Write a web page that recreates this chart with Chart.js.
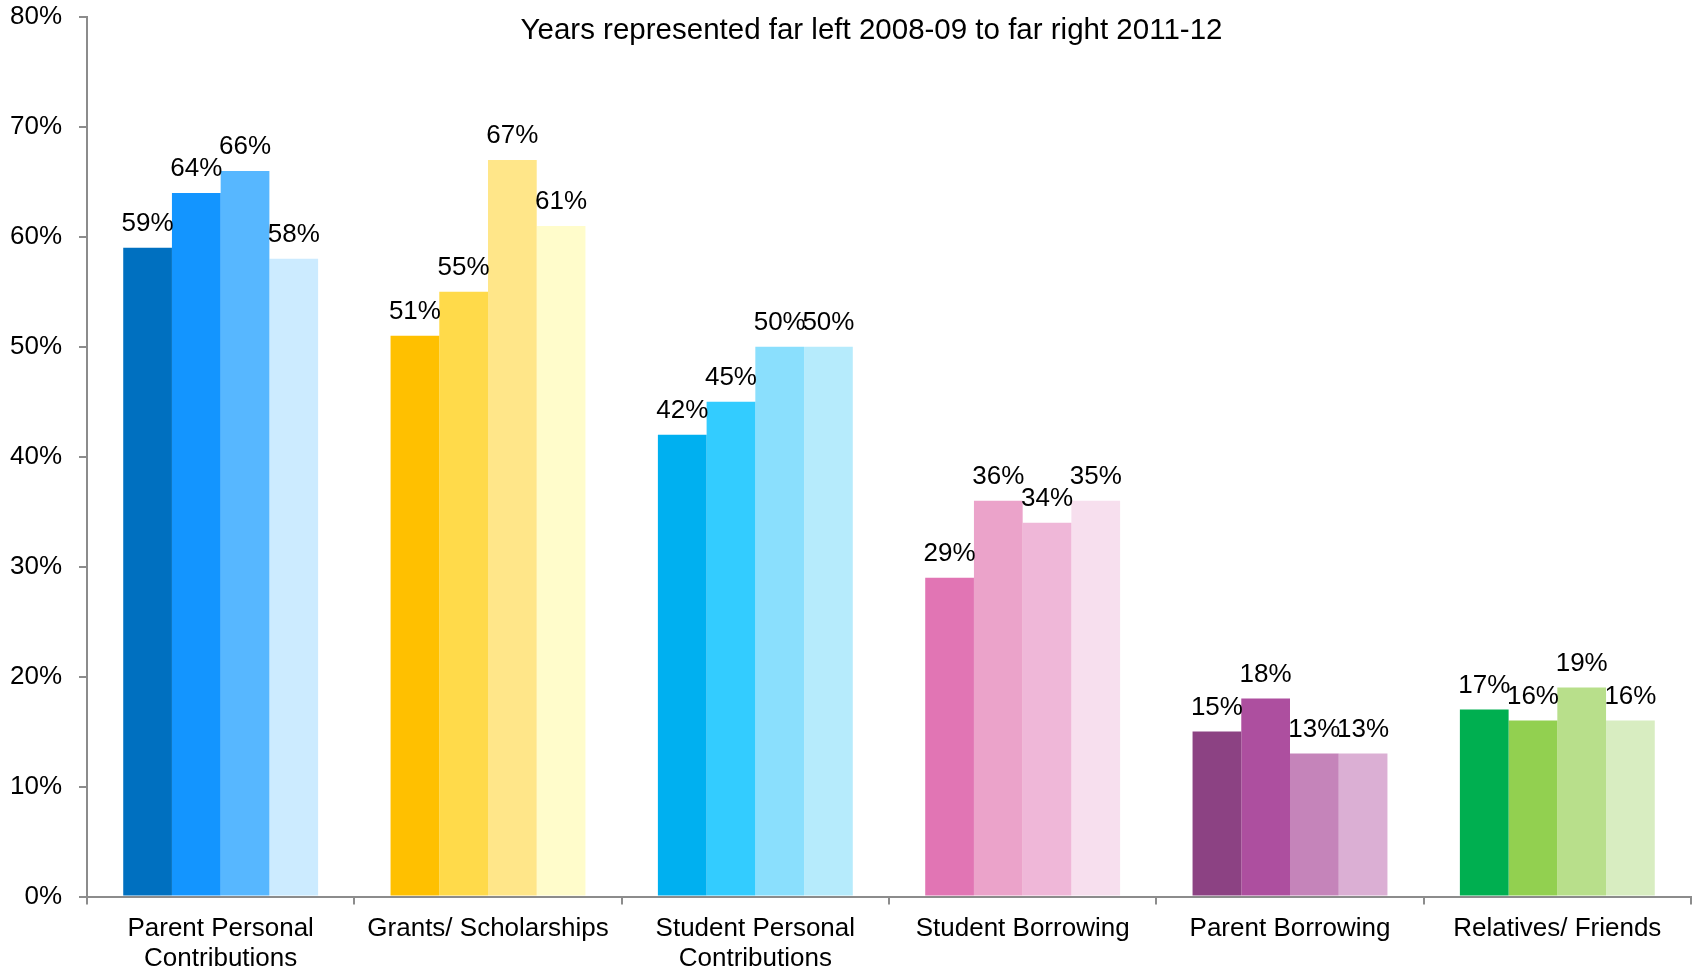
<!DOCTYPE html>
<html>
<head>
<meta charset="utf-8">
<script src="https://cdn.jsdelivr.net/npm/chart.js@4"></script>
<style>
  body { margin: 0; background: #fff; }
  #wrap { width: 1696px; height: 971px; }
</style>
</head>
<body>
<div id="wrap"><canvas id="barChart"></canvas></div>
<script>
// categories and yearly values (percent)
const categories = [
  ['Parent Personal', 'Contributions'],
  'Grants/ Scholarships',
  ['Student Personal', 'Contributions'],
  'Student Borrowing',
  'Parent Borrowing',
  'Relatives/ Friends'
];
const years = ['2008-09', '2009-10', '2010-11', '2011-12'];

const values0809 = [59, 51, 42, 29, 15, 17];
const values0910 = [64, 55, 45, 36, 18, 16];
const values1011 = [66, 67, 50, 34, 13, 19];
const values1112 = [58, 61, 50, 36, 13, 16];

// printed data labels (the last Student Borrowing label reads 35%)
const labels0809 = [59, 51, 42, 29, 15, 17];
const labels0910 = [64, 55, 45, 36, 18, 16];
const labels1011 = [66, 67, 50, 34, 13, 19];
const labels1112 = [58, 61, 50, 35, 13, 16];

const yTickStep = 10;
const yMax = 80;
const titleText = 'Years represented far left 2008-09 to far right 2011-12';

const colors0809 = ['#0070C0', '#FFC000', '#00B0F0', '#E175B4', '#8C4283', '#00AF50'];
const colors0910 = ['#1395FF', '#FFDA4A', '#33CCFF', '#EBA3CA', '#AD4F9F', '#92D050'];
const colors1011 = ['#57B7FF', '#FFE689', '#8ADFFD', '#EFB7D8', '#C584BA', '#B8DF8B'];
const colors1112 = ['#CCEBFF', '#FFFCCB', '#B6EBFC', '#F7DFEE', '#DBAFD4', '#D8EDC1'];

const FONT = "'Liberation Sans', Arial, sans-serif";
const axisGray = '#8c8c8c';

const seriesValues = [values0809, values0910, values1011, values1112];
const seriesLabels = [labels0809, labels0910, labels1011, labels1112];
const seriesColors = [colors0809, colors0910, colors1011, colors1112];

const datasets = years.map((y, i) => ({
  label: y,
  data: seriesValues[i],
  backgroundColor: seriesColors[i],
  borderWidth: 0,
  categoryPercentage: 0.729,
  barPercentage: 1.0,
  printed: seriesLabels[i]
}));

const labelPlugin = {
  id: 'barLabels',
  afterDatasetsDraw(chart) {
    const ctx = chart.ctx;
    ctx.save();
    ctx.font = '26px ' + FONT;
    ctx.fillStyle = '#000';
    ctx.textAlign = 'center';
    ctx.textBaseline = 'alphabetic';
    chart.data.datasets.forEach((ds, i) => {
      chart.getDatasetMeta(i).data.forEach((bar, j) => {
        ctx.fillText(ds.printed[j] + '%', bar.x, bar.y - 17);
      });
    });
    ctx.restore();
  },
  afterDraw(chart) {
    const ctx = chart.ctx;
    ctx.save();
    ctx.font = '29.5px ' + FONT;
    ctx.fillStyle = '#000';
    ctx.textAlign = 'center';
    ctx.textBaseline = 'alphabetic';
    ctx.fillText(titleText, 871.5, 38.5);
    ctx.restore();
  }
};

const ctx = document.getElementById('barChart').getContext('2d');

new Chart(ctx, {
  type: 'bar',
  data: {
    labels: categories,
    datasets: datasets
  },
  options: {
    responsive: true,
    maintainAspectRatio: false,
    animation: false,
    layout: { padding: { top: 17, right: 5, bottom: 0, left: 0 } },
    plugins: {
      legend: { display: false },
      title: { display: false },
      tooltip: { enabled: false }
    },
    scales: {
      x: {
        grid: {
          offset: true,
          drawOnChartArea: false,
          tickLength: 8,
          color: axisGray,
          lineWidth: 2
        },
        border: { color: axisGray, width: 2 },
        ticks: {
          color: '#000',
          font: { family: FONT, size: 26, lineHeight: 1.154 },
          padding: 9,
          maxRotation: 0,
          autoSkip: false
        },
        afterFit(scale) {
          scale.height = 74.5;
          scale.paddingTop = 0;
          scale.paddingBottom = 0;
        }
      },
      y: {
        min: 0,
        max: yMax,
        grid: {
          drawOnChartArea: false,
          tickLength: 8,
          color: axisGray,
          lineWidth: 2
        },
        border: { color: axisGray, width: 2 },
        ticks: {
          stepSize: yTickStep,
          color: '#000',
          font: { family: FONT, size: 26 },
          padding: 17,
          callback: v => v + '%'
        },
        afterFit(scale) {
          scale.width = 87;
          scale.paddingTop = 0;
          scale.paddingBottom = 0;
        }
      }
    }
  },
  plugins: [labelPlugin]
});
</script>
</body>
</html>
